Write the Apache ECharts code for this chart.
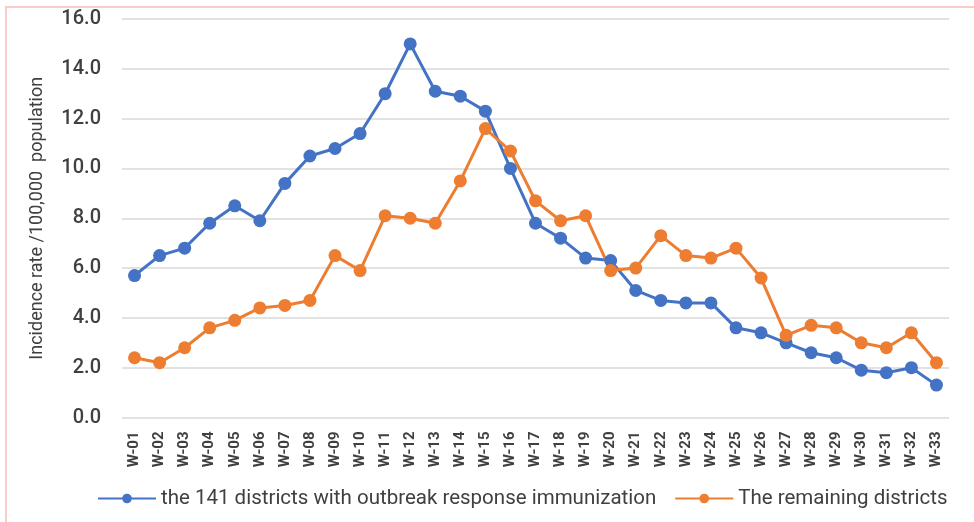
<!DOCTYPE html>
<html>
<head>
<meta charset="utf-8">
<script src="https://cdn.jsdelivr.net/npm/echarts@6/dist/echarts.min.js"></script>
<style>
  html, body { margin: 0; padding: 0; background: #fff; }
  #frame { position: absolute; left: 5px; top: 6px; right: 0; bottom: 0; border-left: 2px solid #f8cdc7; border-top: 2px solid #f8cdc7; }
  #chart { position: absolute; left: 0; top: 0; width: 974px; height: 522px; }
</style>
</head>
<body>
<div id="frame"></div>
<div id="chart"></div>
<script>
// weeks on the x axis
const weeks = ['W-01', 'W-02', 'W-03', 'W-04', 'W-05', 'W-06', 'W-07', 'W-08', 'W-09', 'W-10', 'W-11',
  'W-12', 'W-13', 'W-14', 'W-15', 'W-16', 'W-17', 'W-18', 'W-19', 'W-20', 'W-21', 'W-22',
  'W-23', 'W-24', 'W-25', 'W-26', 'W-27', 'W-28', 'W-29', 'W-30', 'W-31', 'W-32', 'W-33']

// incidence per 100,000
const ormiDistricts = [5.7, 6.5, 6.8, 7.8, 8.5, 7.9, 9.4, 10.5, 10.8, 11.4, 13.0,
  15.0, 13.1, 12.9, 12.3, 10.0, 7.8, 7.2, 6.4, 6.3, 5.1, 4.7,
  4.6, 4.6, 3.6, 3.4, 3.0, 2.6, 2.4, 1.9, 1.8, 2.0, 1.3]
const remainingDistricts = [2.4, 2.2, 2.8, 3.6, 3.9, 4.4, 4.5, 4.7, 6.5, 5.9, 8.1,
  8.0, 7.8, 9.5, 11.6, 10.7, 8.7, 7.9, 8.1, 5.9, 6.0, 7.3,
  6.5, 6.4, 6.8, 5.6, 3.3, 3.7, 3.6, 3.0, 2.8, 3.4, 2.2]

const seriesNames = ['the 141 districts with outbreak response immunization', 'The remaining districts']
const colors = ['#4472c4', '#ed7d31']

let chart = echarts.init(document.getElementById('chart'))

function lineSeries(name, data, color) {
  return {
    name: name,
    type: 'line',
    data: data,
    symbol: 'circle',
    symbolSize: 13,
    itemStyle: { color: color },
    lineStyle: { color: color, width: 3 }
  }
}

chart.setOption({
  animation: false,
  textStyle: { fontFamily: 'Roboto' },
  grid: { left: 122, right: 25, top: 19, bottom: 104.5 },
  legend: {
    bottom: 8,
    left: 92,
    itemWidth: 58,
    itemHeight: 12,
    itemGap: 18,
    textStyle: { fontSize: 20.5, color: '#404040' },
    data: seriesNames
  },
  xAxis: {
    type: 'category',
    data: weeks,
    boundaryGap: true,
    axisLine: { show: false },
    axisTick: { show: false },
    axisLabel: { rotate: 90, interval: 0, margin: 14, fontSize: 15, fontWeight: 'bold', color: '#404040' }
  },
  yAxis: {
    type: 'value',
    min: 0,
    max: 16,
    interval: 2,
    name: 'Incidence rate /100,000  population',
    nameLocation: 'middle',
    nameRotate: 90,
    nameGap: 76,
    nameTextStyle: { fontSize: 18, color: '#404040' },
    axisLine: { show: false },
    axisTick: { show: false },
    splitLine: { lineStyle: { color: '#d9d9d9', width: 1.5 } },
    axisLabel: {
      margin: 21,
      fontSize: 20,
      fontWeight: 500,
      color: '#404040',
      formatter: function (v) { return v.toFixed(1) }
    }
  },
  series: [
    lineSeries(seriesNames[0], ormiDistricts, colors[0]),
    lineSeries(seriesNames[1], remainingDistricts, colors[1])
  ]
})
</script>
</body>
</html>
